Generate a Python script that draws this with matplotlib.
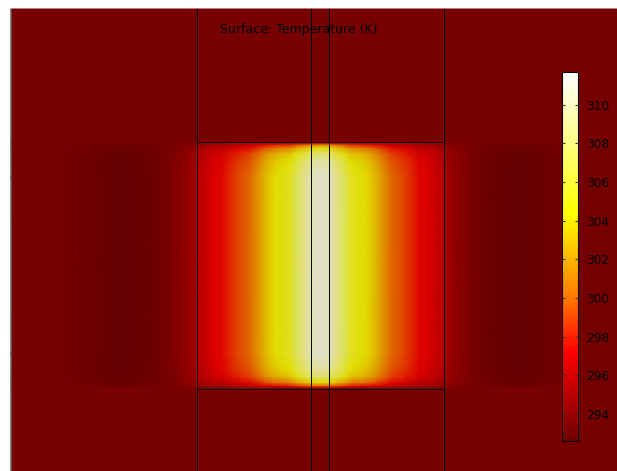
#!/usr/bin/env python3
"""Surface temperature of a heated block inside a slab, drawn as a filled field with a colour bar."""

import matplotlib

matplotlib.use("Agg")
import matplotlib.pyplot as plt
import numpy as np
from matplotlib.colors import LinearSegmentedColormap, ListedColormap, Normalize
from matplotlib.cm import ScalarMappable

# temperature range of the colour scale (K)
T_MIN, T_MAX = 292.6, 311.7
CBAR_TICKS = [294, 296, 298, 300, 302, 304, 306, 308, 310]

# thermal colour scale: node temperatures (K) and colours
CMAP_T = [292.6, 297.2, 300.0, 304.4, 308.0, 311.7]
CMAP_RGB = [(0.44, 0, 0), (1, 0, 0), (1, 0.47, 0), (1, 1, 0), (1, 1, 0.5), (1, 1, 1)]

# horizontal temperature profile through the mid-plane (x in mm, T in K)
PROFILE_X = [-25.06, -21.09, -18.66, -16.64, -15.83, -13.81, -12.19, -10.97,
             -10.08, -9.92, -8.79, -7.98, -6.92, -5.71, -4.49, -3.68, -2.47,
             -1.90, -1.26, -0.69, 0.0,
             0.69, 1.26, 1.90, 2.47, 3.68, 4.49, 5.71, 6.92, 7.98, 8.79, 9.92,
             10.08, 10.97, 12.19, 13.81, 15.83, 16.64, 18.66, 21.09, 25.06]
PROFILE_T = [293.4, 293.3, 293.05, 292.7, 292.7, 292.95, 293.5, 294.3,
             295.0, 295.6, 297.0, 297.4, 298.8, 300.0, 302.8, 304.2, 305.3,
             307.3, 309.0, 310.3, 311.0,
             310.3, 309.0, 307.3, 305.3, 304.2, 302.8, 300.0, 298.8, 297.4, 297.0, 295.6,
             295.0, 294.3, 293.5, 292.95, 292.7, 292.7, 293.05, 293.3, 293.4]
T_AMBIENT = 293.4

# vertical share of the mid-plane excess that is reached at height y (mm)
WEIGHT_Y = [-25.0, -10.05, -10.0, -9.88, -9.76, -9.51, -9.03, -8.38, -7.17,
            7.17, 8.38, 9.03, 9.51, 9.76, 9.88, 10.0, 10.05, 20.73]
WEIGHT_W = [0.0, 0.0, 0.0, 0.2, 0.4, 0.62, 0.83, 0.93, 1.0,
            1.0, 0.93, 0.83, 0.62, 0.4, 0.2, 0.0, 0.0, 0.0]

# geometry (mm)
DOMAIN_X = (-25.06, 25.0)
DOMAIN_Y = (-25.0, 20.73)
BLOCK_HALF = 10.0
STRIP_HALF = 0.73


def build_cmaps():
    pos = [(t - T_MIN) / (T_MAX - T_MIN) for t in CMAP_T]
    cmap = LinearSegmentedColormap.from_list("thermal", list(zip(pos, CMAP_RGB)))
    # the lit surface reads a little darker than the legend
    shaded = cmap(np.linspace(0, 1, 256))
    shaded[:, :3] *= 0.88
    return cmap, ListedColormap(shaded)


def main():
    cmap, surf_cmap = build_cmaps()
    norm = Normalize(T_MIN, T_MAX)

    fig = plt.figure(figsize=(6.17, 4.71), dpi=100)
    ax = fig.add_axes([0, 0, 1, 1])
    ax.set_xlim(-25.95, 24.01)
    ax.set_ylim(-16.68, 21.46)
    ax.axis("off")

    x = np.array(PROFILE_X)
    y = np.array(WEIGHT_Y)
    temp = T_AMBIENT + np.outer(WEIGHT_W, np.array(PROFILE_T) - T_AMBIENT)
    ax.pcolormesh(x, y, temp, cmap=surf_cmap, norm=norm, shading="gouraud")

    # geometry edges
    y0, y1 = DOMAIN_Y
    for xv in (-BLOCK_HALF, -STRIP_HALF, STRIP_HALF, BLOCK_HALF):
        ax.plot([xv, xv], [y0, y1], color="black", lw=0.7)
    for yv in (-BLOCK_HALF, BLOCK_HALF):
        ax.plot([-BLOCK_HALF, BLOCK_HALF], [yv, yv], color="black", lw=0.7)
    ax.plot([DOMAIN_X[0]] * 2, [y0, y1], color="#555555", lw=0.9)

    fig.text(299 / 617, 1 - 30 / 471, "Surface: Temperature (K)",
             ha="center", va="center", fontsize=9, color="black")

    cax = fig.add_axes([562 / 617, 30 / 471, 16 / 617, 369 / 471])
    cb = fig.colorbar(ScalarMappable(norm=norm, cmap=cmap), cax=cax, ticks=CBAR_TICKS)
    cb.outline.set_edgecolor("black")
    cb.outline.set_linewidth(0.8)
    cax.tick_params(axis="y", which="major", direction="in", left=True, right=True,
                    length=2.2, width=0.8, color="#333333", labelsize=8.7,
                    pad=5.5, labelcolor="black")
    cax.minorticks_off()

    fig.savefig("out.png", dpi=100)
    plt.close(fig)


if __name__ == "__main__":
    main()
